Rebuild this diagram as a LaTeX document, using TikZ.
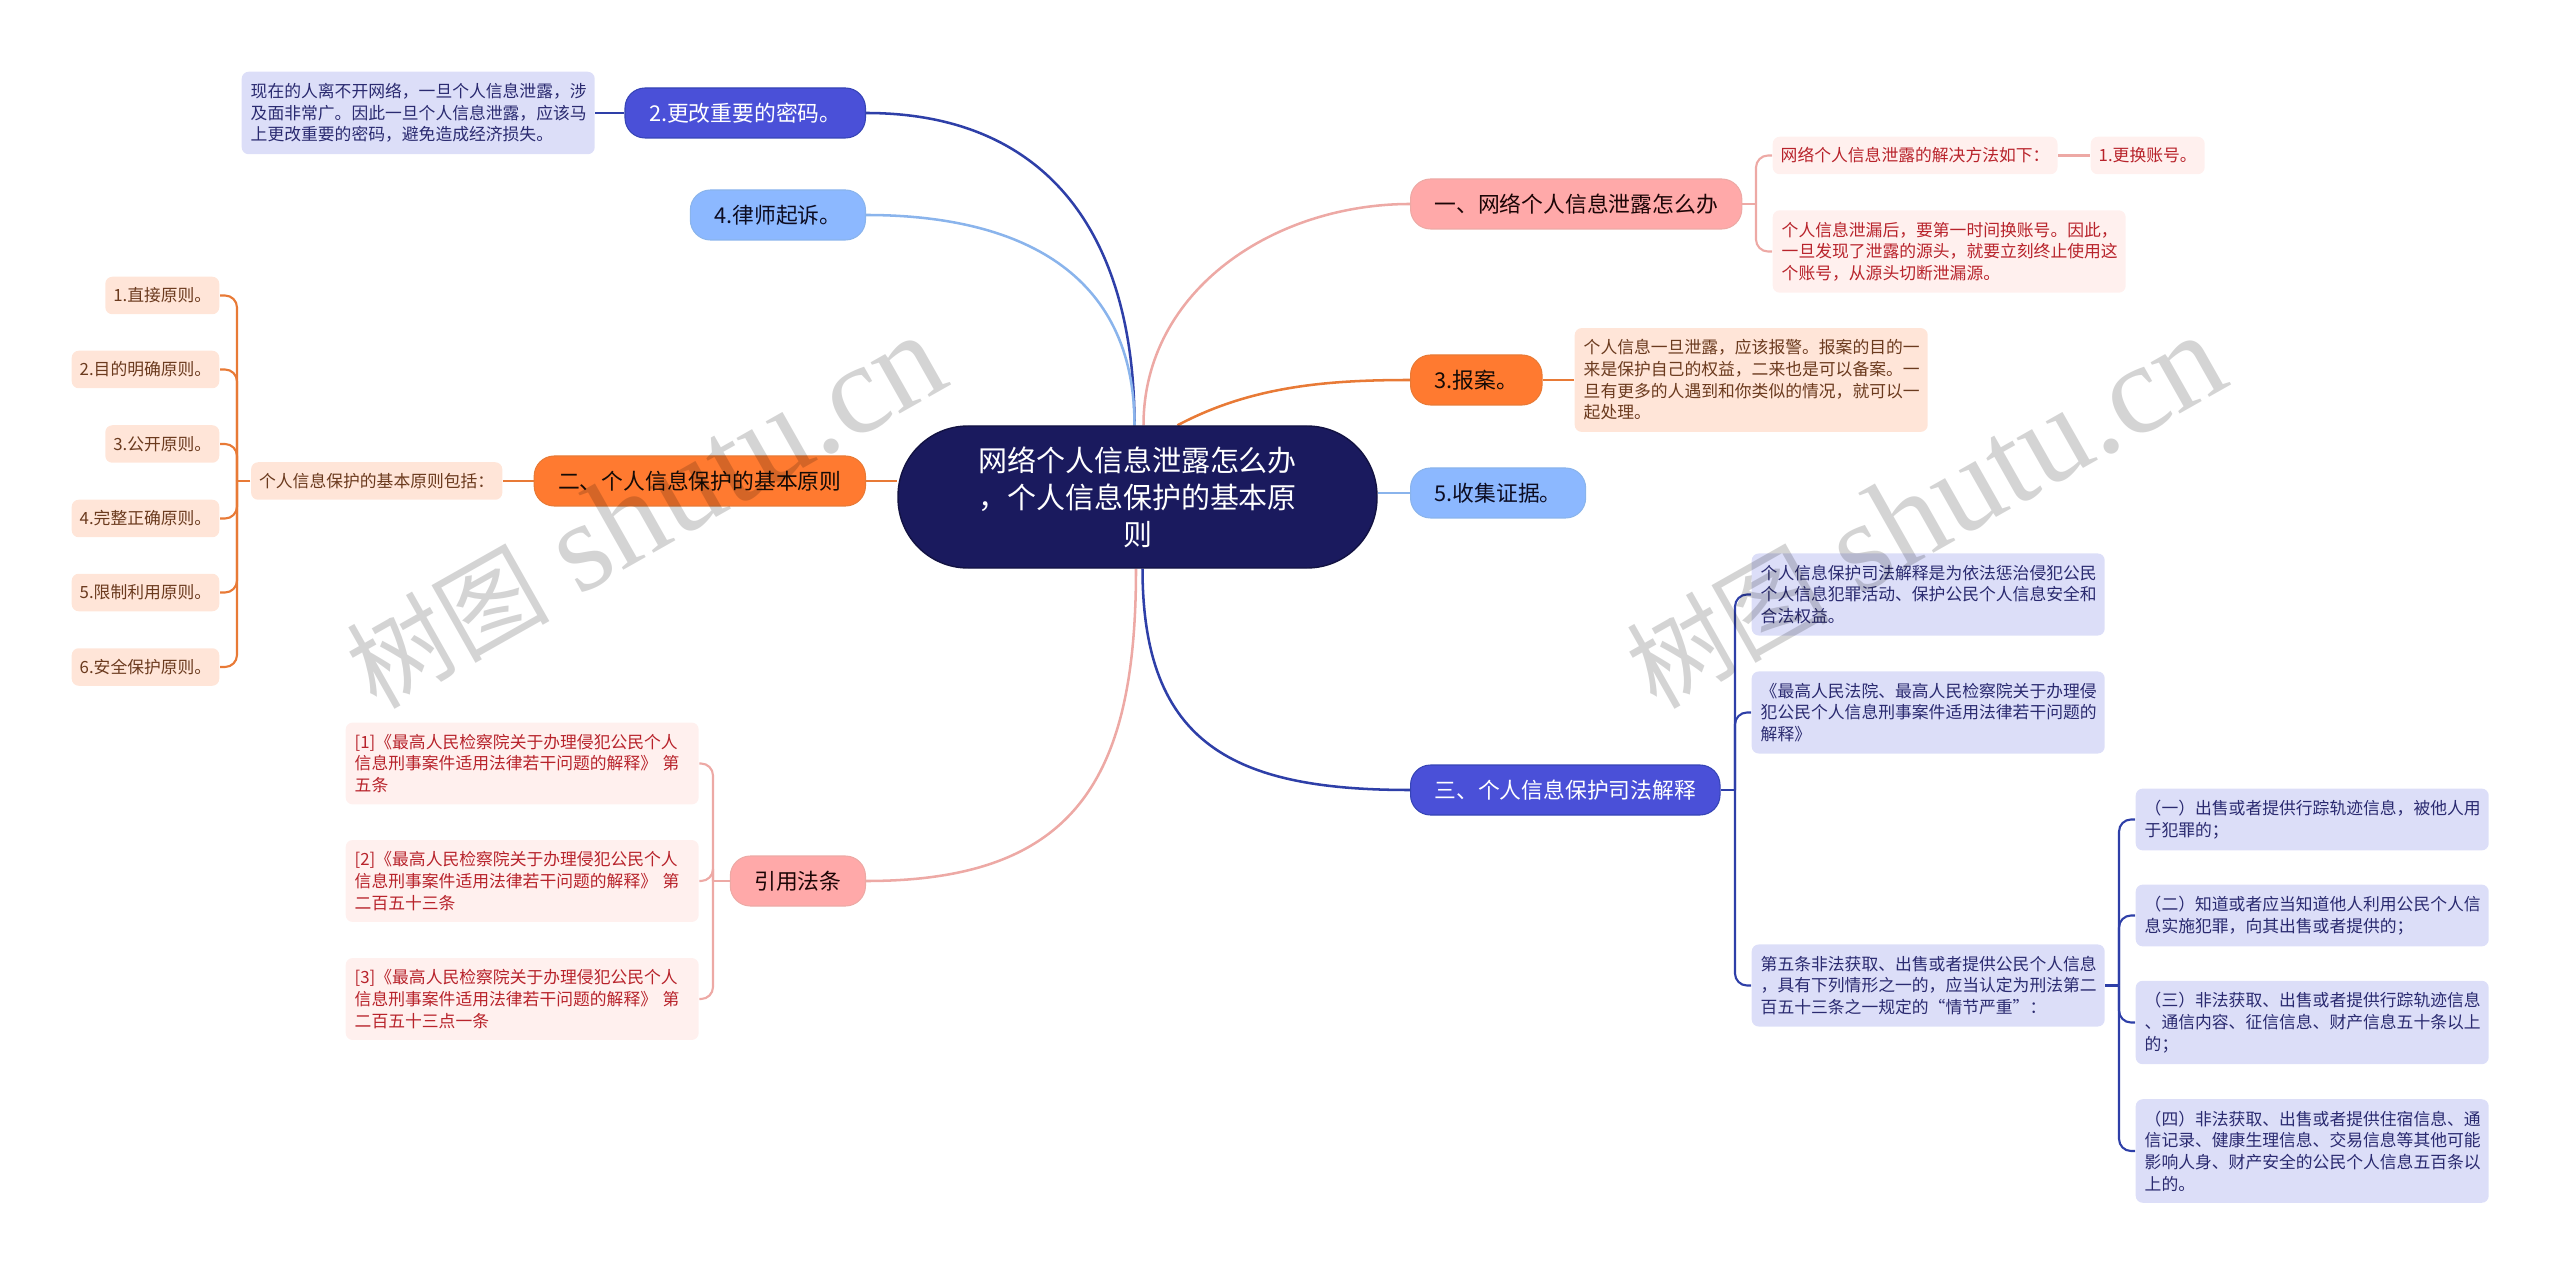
\documentclass[tikz,border=0pt]{standalone}
\usepackage{fontspec}
\setmainfont{Noto Sans CJK SC}
\newfontfamily\markfont{Liberation Serif}
\usetikzlibrary{backgrounds}
\definecolor{rootfill}{HTML}{1A1A5E}
\definecolor{pinkfill}{HTML}{FFA9A9}
\definecolor{pinkline}{HTML}{EDA9A5}
\definecolor{pinkpale}{HTML}{FFF0EE}
\definecolor{pinktext}{HTML}{B8232B}
\definecolor{orangefill}{HTML}{FF7A30}
\definecolor{orangeline}{HTML}{E87A36}
\definecolor{orangepale}{HTML}{FFE5D8}
\definecolor{orangetext}{HTML}{6B3A1E}
\definecolor{bluefill}{HTML}{4A50D8}
\definecolor{blueline}{HTML}{2E3FA8}
\definecolor{bluepale}{HTML}{DCDEF8}
\definecolor{bluetext}{HTML}{2A2A70}
\definecolor{skyfill}{HTML}{8CB8FF}
\definecolor{skyline}{HTML}{8AB4EC}
\newcommand{\boxfont}{\fontsize{4.78}{6.17}\selectfont}
\newcommand{\mainfont}{\fontsize{6.2}{7.5}\selectfont}
\tikzset{
	rootnode/.style={rectangle, rounded corners=0.7cm, draw=rootfill!70!black, fill=rootfill, text=white, align=center, minimum width=4.79cm, minimum height=1.42cm, inner sep=0pt, font=\fontsize{8.25}{10.5}\selectfont},
	mainnode/.style={rectangle, rounded corners=0.2cm, line width=0.3pt, minimum height=0.5cm, inner xsep=0.24cm, inner ysep=0pt, font=\mainfont},
	pinknode/.style={mainnode, draw=pinkline, fill=pinkfill, text=black!85!pinktext},
	orangenode/.style={mainnode, draw=orangeline, fill=orangefill, text=black!80!orangetext},
	bluenode/.style={mainnode, draw=blueline!70!bluefill, fill=bluefill, text=white},
	skynode/.style={mainnode, draw=skyline, fill=skyfill, text=black!70!bluetext},
	wrapbox/.style={rectangle, rounded corners=0.07cm, anchor=west, text width=3.35cm, align=left, inner xsep=0.09cm, inner ysep=0.115cm, font=\boxfont},
	shortbox/.style={rectangle, rounded corners=0.07cm, minimum height=0.375cm, inner xsep=0.08cm, inner ysep=0pt, font=\boxfont},
	pinkbox/.style={fill=pinkpale, text=pinktext},
	orangebox/.style={fill=orangepale, text=orangetext},
	bluebox/.style={fill=bluepale, text=bluetext},
	mainline/.style={line width=0.72pt},
	elbow/.style={line width=0.6pt, rounded corners=0.12cm},
	watermark/.style={rotate=29.5, text=black, text opacity=0.17, inner sep=0pt, font=\fontsize{36.5}{36.5}\selectfont}
}

\begin{document}
\begin{tikzpicture}
	\useasboundingbox (0,0) rectangle (25.6,12.75);
	\node[rootnode] at (11.375,7.78) (root) {网络个人信息泄露怎么办\\，个人信息保护的基本原\\则};
	
	%left side
	\node[bluenode, anchor=east] at (8.66,11.62) (password) {2.更改重要的密码。};
	\node[wrapbox, bluebox] at (2.41,11.62) (passwordtext) {现在的人离不开网络，一旦个人信息泄露，涉\\及面非常广。因此一旦个人信息泄露，应该马\\上更改重要的密码，避免造成经济损失。};
	\node[skynode, anchor=east] at (8.66,10.60) (lawyer) {4.律师起诉。};
	\node[orangenode, anchor=east] at (8.66,7.94) (basic) {二、个人信息保护的基本原则};
	\node[shortbox, orangebox, anchor=east] at (5.03,7.94) (basictext) {个人信息保护的基本原则包括：};
	\coordinate (basictrunk) at (2.37,7.94);
	\node[shortbox, orangebox, anchor=east] at (2.20,9.795) (p1) {1.直接原则。};
	\node[shortbox, orangebox, anchor=east] at (2.20,9.055) (p2) {2.目的明确原则。};
	\node[shortbox, orangebox, anchor=east] at (2.20,8.31) (p3) {3.公开原则。};
	\node[shortbox, orangebox, anchor=east] at (2.20,7.565) (p4) {4.完整正确原则。};
	\node[shortbox, orangebox, anchor=east] at (2.20,6.825) (p5) {5.限制利用原则。};
	\node[shortbox, orangebox, anchor=east] at (2.20,6.08) (p6) {6.安全保护原则。};
	\node[pinknode, anchor=east] at (8.66,3.94) (cite) {引用法条};
	\coordinate (citetrunk) at (7.13,3.94);
	\node[wrapbox, pinkbox] at (3.45,5.115) (ref1) {[1]《最高人民检察院关于办理侵犯公民个人\\信息刑事案件适用法律若干问题的解释》 第\\五条};
	\node[wrapbox, pinkbox] at (3.45,3.94) (ref2) {[2]《最高人民检察院关于办理侵犯公民个人\\信息刑事案件适用法律若干问题的解释》 第\\二百五十三条};
	\node[wrapbox, pinkbox] at (3.45,2.76) (ref3) {[3]《最高人民检察院关于办理侵犯公民个人\\信息刑事案件适用法律若干问题的解释》 第\\二百五十三点一条};
	
	%right side
	\node[pinknode, anchor=west] at (14.10,10.71) (leak) {一、网络个人信息泄露怎么办};
	\coordinate (leaktrunk) at (17.56,10.71);
	\node[shortbox, pinkbox, anchor=west] at (17.72,11.195) (solve) {网络个人信息泄露的解决方法如下：};
	\node[shortbox, pinkbox, anchor=west] at (20.90,11.195) (change) {1.更换账号。};
	\node[wrapbox, pinkbox] at (17.72,10.235) (leaktext) {个人信息泄漏后，要第一时间换账号。因此，\\一旦发现了泄露的源头，就要立刻终止使用这\\个账号，从源头切断泄漏源。};
	\node[orangenode, anchor=west] at (14.10,8.95) (report) {3.报案。};
	\node[wrapbox, orangebox] at (15.74,8.95) (reporttext) {个人信息一旦泄露，应该报警。报案的目的一\\来是保护自己的权益，二来也是可以备案。一\\旦有更多的人遇到和你类似的情况，就可以一\\起处理。};
	\node[skynode, anchor=west] at (14.10,7.82) (evidence) {5.收集证据。};
	\node[bluenode, anchor=west] at (14.10,4.85) (judicial) {三、个人信息保护司法解释};
	\coordinate (judicialtrunk) at (17.35,4.85);
	\node[wrapbox, bluebox] at (17.51,6.805) (j1) {个人信息保护司法解释是为依法惩治侵犯公民\\个人信息犯罪活动、保护公民个人信息安全和\\合法权益。};
	\node[wrapbox, bluebox] at (17.51,5.625) (j2) {《最高人民法院、最高人民检察院关于办理侵\\犯公民个人信息刑事案件适用法律若干问题的\\解释》};
	\node[wrapbox, bluebox] at (17.51,2.895) (j3) {第五条非法获取、出售或者提供公民个人信息\\，具有下列情形之一的，应当认定为刑法第二\\百五十三条之一规定的“情节严重”：};
	\coordinate (j3trunk) at (21.19,2.895);
	\node[wrapbox, bluebox] at (21.35,4.555) (s1) {（一）出售或者提供行踪轨迹信息，被他人用\\于犯罪的；};
	\node[wrapbox, bluebox] at (21.35,3.595) (s2) {（二）知道或者应当知道他人利用公民个人信\\息实施犯罪，向其出售或者提供的；};
	\node[wrapbox, bluebox] at (21.35,2.525) (s3) {（三）非法获取、出售或者提供行踪轨迹信息\\、通信内容、征信信息、财产信息五十条以上\\的；};
	\node[wrapbox, bluebox] at (21.35,1.24) (s4) {（四）非法获取、出售或者提供住宿信息、通\\信记录、健康生理信息、交易信息等其他可能\\影响人身、财产安全的公民个人信息五百条以\\上的。};
	
	%Lines
	\begin{scope}[on background layer]
		\draw[mainline, blueline] (password.east) to[out=0, in=90, looseness=1.15] ([xshift=-0.03cm]root.north);
		\draw[mainline, skyline] (lawyer.east) to[out=0, in=90, looseness=1.15] ([xshift=-0.03cm]root.north);
		\draw[mainline, pinkline] (leak.west) to[out=180, in=90, looseness=1] ([xshift=0.06cm]root.north);
		\draw[mainline, orangeline] (report.west) to[out=180, in=28, looseness=0.9] ([xshift=0.4cm]root.north);
		\draw[mainline, blueline] (judicial.west) to[out=180, in=-90, looseness=1.3] ([xshift=0.05cm]root.south);
		\draw[mainline, pinkline] (cite.east) to[out=0, in=-90, looseness=1.3] ([xshift=-0.015cm]root.south);
		\draw[mainline, orangeline] (basic.east) -- (basic.east -| root.west);
		\draw[mainline, skyline] (evidence.west) -- (evidence.west -| root.east);
		\draw[mainline, blueline] (passwordtext.east) -- (password.west);
		\draw[mainline, orangeline] (basictext.east) -- (basic.west);
		\draw[mainline, orangeline] (reporttext.west |- report.east) -- (report.east);
		\draw[mainline, pinkline] (solve.east) -- (change.west);
		\draw[elbow, orangeline] (basictext.west) -- (basictrunk);
		\foreach \n in {p1,p2,p3,p4,p5,p6}
			\draw[elbow, orangeline] (basictrunk) |- (\n.east);
		\draw[elbow, pinkline] (cite.west) -- (citetrunk);
		\foreach \n in {ref1,ref2,ref3}
			\draw[elbow, pinkline] (citetrunk) |- (\n.east);
		\draw[elbow, pinkline] (leak.east) -- (leaktrunk);
		\foreach \n in {solve,leaktext}
			\draw[elbow, pinkline] (leaktrunk) |- (\n.west);
		\draw[elbow, blueline] (judicial.east) -- (judicialtrunk);
		\foreach \n in {j1,j2,j3}
			\draw[elbow, blueline] (judicialtrunk) |- (\n.west);
		\draw[elbow, blueline] (j3.east) -- (j3trunk);
		\foreach \n in {s1,s2,s3,s4}
			\draw[elbow, blueline] (j3trunk) |- (\n.west);
	\end{scope}
	
	%text
	\node[watermark] at (6.45,7.63) (markleft) {{\fontsize{29}{29}\selectfont 树图} \markfont shutu.cn};
	\node[watermark] at (19.25,7.63) (markright) {{\fontsize{29}{29}\selectfont 树图} \markfont shutu.cn};
\end{tikzpicture}
\end{document}
